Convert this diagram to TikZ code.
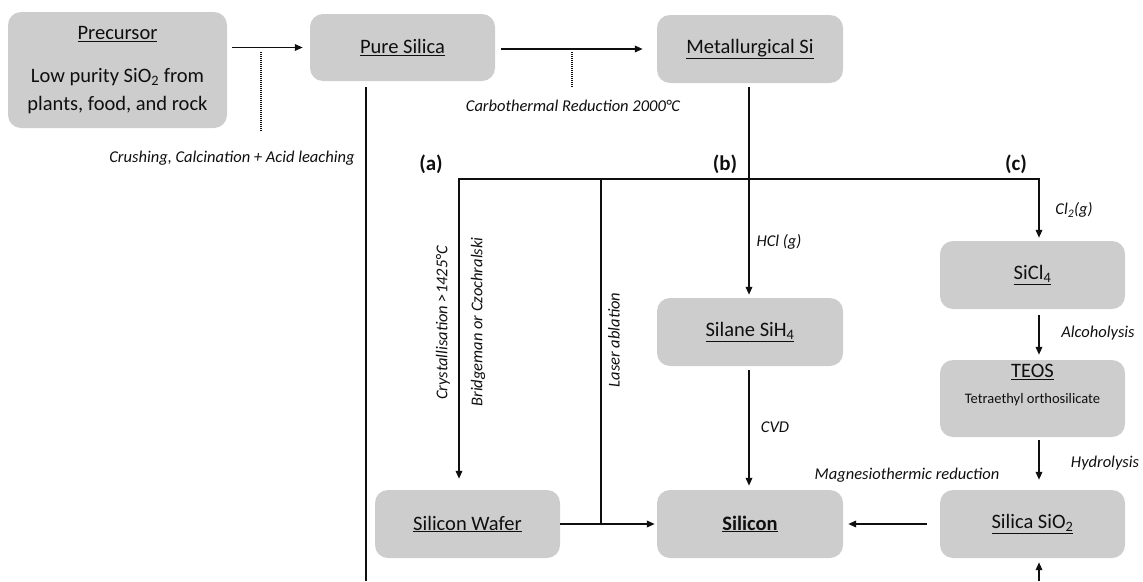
\documentclass[tikz,border=0pt]{standalone}
\usepackage{fontspec}
\setmainfont{Carlito}
\usetikzlibrary{arrows.meta,calc}
\definecolor{boxgray}{RGB}{205,205,205}
\definecolor{ink}{RGB}{15,15,15}
\tikzset{
  box/.style={draw=none, fill=boxgray, rounded corners=13pt, align=center, inner sep=0pt,
    font=\fontsize{20.5}{24}\selectfont, text=ink},
  link/.style={line width=1.8pt, draw=ink},
  arr/.style={link, -{Triangle[length=8pt,width=6.5pt]}},
  dotline/.style={line width=1.4pt, draw=ink, dash pattern=on 1pt off 1pt},
  lab/.style={font=\fontsize{16.5}{19}\selectfont\itshape, text=ink, inner sep=0pt},
  tag/.style={font=\fontsize{21}{24}\selectfont\bfseries, text=ink, inner sep=0pt},
}
\begin{document}
\begin{tikzpicture}[x=1pt,y=-1pt]
\useasboundingbox (0,0) rectangle (1143,581);

% boxes
\node[box, minimum width=219pt, minimum height=116pt, font=\fontsize{20.5}{28}\selectfont] (prec) at (117.5,70)
  {\underline{Precursor}\\[15pt]Low purity SiO\textsubscript{2} from\\plants, food, and rock};
\node[box, minimum width=185pt, minimum height=67pt] (pure) at (402.5,47.5) {\underline{Pure Silica}};
\node[box, minimum width=186pt, minimum height=68pt] (met) at (750,49) {\underline{Metallurgical Si}};
\node[box, minimum width=185pt, minimum height=68pt] (sicl) at (1032.5,275) {\underline{SiCl\textsubscript{4}}};
\node[box, minimum width=185pt, minimum height=77pt, text depth=29pt] (teos) at (1032.5,398.5)
  {\underline{TEOS}\\[2pt]{\fontsize{14.5}{16}\selectfont Tetraethyl orthosilicate}};
\node[box, minimum width=186pt, minimum height=68pt] (silane) at (750,332) {\underline{Silane SiH\textsubscript{4}}};
\node[box, minimum width=185pt, minimum height=68pt] (wafer) at (467.5,524) {\underline{Silicon Wafer}};
\node[box, minimum width=186pt, minimum height=68pt] (silicon) at (750,524) {\textbf{\underline{Silicon}}};
\node[box, minimum width=185pt, minimum height=68pt] (sio) at (1032.5,524) {\underline{Silica SiO\textsubscript{2}}};

% junction coordinates
\coordinate (ja) at (459,179);
\coordinate (jl) at (601,179);
\coordinate (jb) at (749,179);
\coordinate (jc) at (1039,179);
\coordinate (pb) at (366,581);
\coordinate (sb) at (1039,581);
\coordinate (d1) at (261,131);
\coordinate (d2) at (572,87);

% connectors
\draw[arr, shorten <=5pt, shorten >=7pt] (prec.east |- pure.west) -- (pure.west);
\draw[dotline, shorten >=4.5pt] (d1) -- (d1 |- pure.west);
\draw[arr, shorten <=6pt, shorten >=14pt] (pure.east |- met.west) -- (met.west);
\draw[dotline, shorten >=3pt] (d2) -- (d2 |- met.west);
\draw[link, shorten <=6pt] (pure.south -| pb) -- (pb);
\draw[arr, shorten <=4pt, shorten >=3pt] (met.south -| jb) -- (silane.north -| jb);
\draw[arr, shorten >=11pt] (jl) -- (ja) -- (wafer.north -| ja);
\draw[arr, shorten >=3pt] (jl) -- (jc) -- (sicl.north -| jc);
\draw[link] (jl) -- (jl |- wafer.east);
\draw[arr, shorten >=2pt] (wafer.east) -- (silicon.west);
\draw[arr, shorten <=6pt, shorten >=5pt] (sicl.south -| jc) -- (teos.north -| jc);
\draw[arr, shorten <=3pt, shorten >=10pt] (teos.south -| jc) -- (sio.north -| jc);
\draw[arr, shorten <=13pt, shorten >=5pt] (sio.west) -- (silicon.east);
\draw[arr, shorten <=4pt, shorten >=4pt] (silane.south -| jb) -- (silicon.north -| jb);
\draw[arr, shorten >=4pt] (sb) -- (sio.south -| sb);

% labels
\node[lab] (l1) at (232,158) {Crushing, Calcination + Acid leaching};
\node[lab] (l2) at (573,106) {Carbothermal Reduction 2000°C};
\node[tag] (ta) at (431,164) {(a)};
\node[tag] (tb) at (725,164) {(b)};
\node[tag] (tc) at (1016,164) {(c)};
\node[lab] (l3) at (779,242) {HCl (g)};
\node[lab] (l4) at (1074,210) {Cl\textsubscript{2}(g)};
\node[lab] (l5) at (1098,333) {Alcoholysis};
\node[lab] (l6) at (1105,463) {Hydrolysis};
\node[lab] (l7) at (907,475) {Magnesiothermic reduction};
\node[lab] (l8) at (775,427) {CVD};
\node[lab, rotate=90] (l9) at (443,323) {Crystallisation >1425°C};
\node[lab, rotate=90] (l10) at (478,322) {Bridgeman or Czochralski};
\node[lab, rotate=90] (l11) at (614,340) {Laser ablation};
\end{tikzpicture}
\end{document}
